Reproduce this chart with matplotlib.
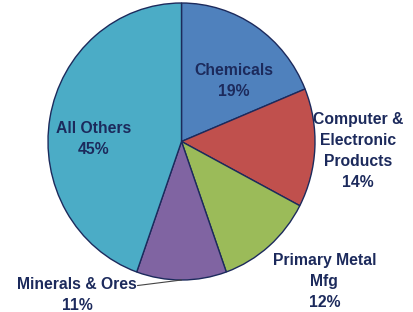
import matplotlib.pyplot as plt
import numpy as np

# share of total, clockwise from 12 o'clock
labels = ['Chemicals', 'Computer &\nElectronic\nProducts', 'Primary Metal\nMfg',
          'Minerals & Ores', 'All Others']
shares = [19, 14, 12, 11, 45]
colors = ['#4F81BD', '#C0504D', '#9BBB59', '#8064A2', '#4BACC6']

# label block centres (data units of the unit pie)
label_pos = [(0.39, 0.44), (1.32, -0.07), (1.07, -1.01), (-0.78, -1.11), (-0.66, 0.02)]

navy = '#1C2A5C'
plt.rcParams['font.family'] = ['Liberation Sans', 'DejaVu Sans']

fig = plt.figure(figsize=(4.14, 3.12), dpi=100)
ax = fig.add_axes([48 / 414, 32 / 312, 267 / 414, 277 / 312])

wedges, _ = ax.pie(shares, colors=colors, startangle=90, counterclock=False,
                   wedgeprops=dict(edgecolor=navy, linewidth=1.0))
ax.set_aspect('auto')
ax.set_xlim(-1, 1)
ax.set_ylim(-1, 1)
ax.axis('off')

for lab, val, (x, y) in zip(labels, shares, label_pos):
    ax.text(x, y, f'{lab}\n{val}%', ha='center', va='center', color=navy,
            fontsize=11.3, fontweight='bold', linespacing=1.5)

# leader line for the minerals slice
w = wedges[3]
mid = np.deg2rad((w.theta1 + w.theta2) / 2)
ax.annotate('', xy=(np.cos(mid), np.sin(mid)), xytext=(-0.33, -1.04),
            arrowprops=dict(arrowstyle='-', color='#444444', lw=0.8,
                            shrinkA=0, shrinkB=0), annotation_clip=False)

fig.savefig('out.png', dpi=100)
